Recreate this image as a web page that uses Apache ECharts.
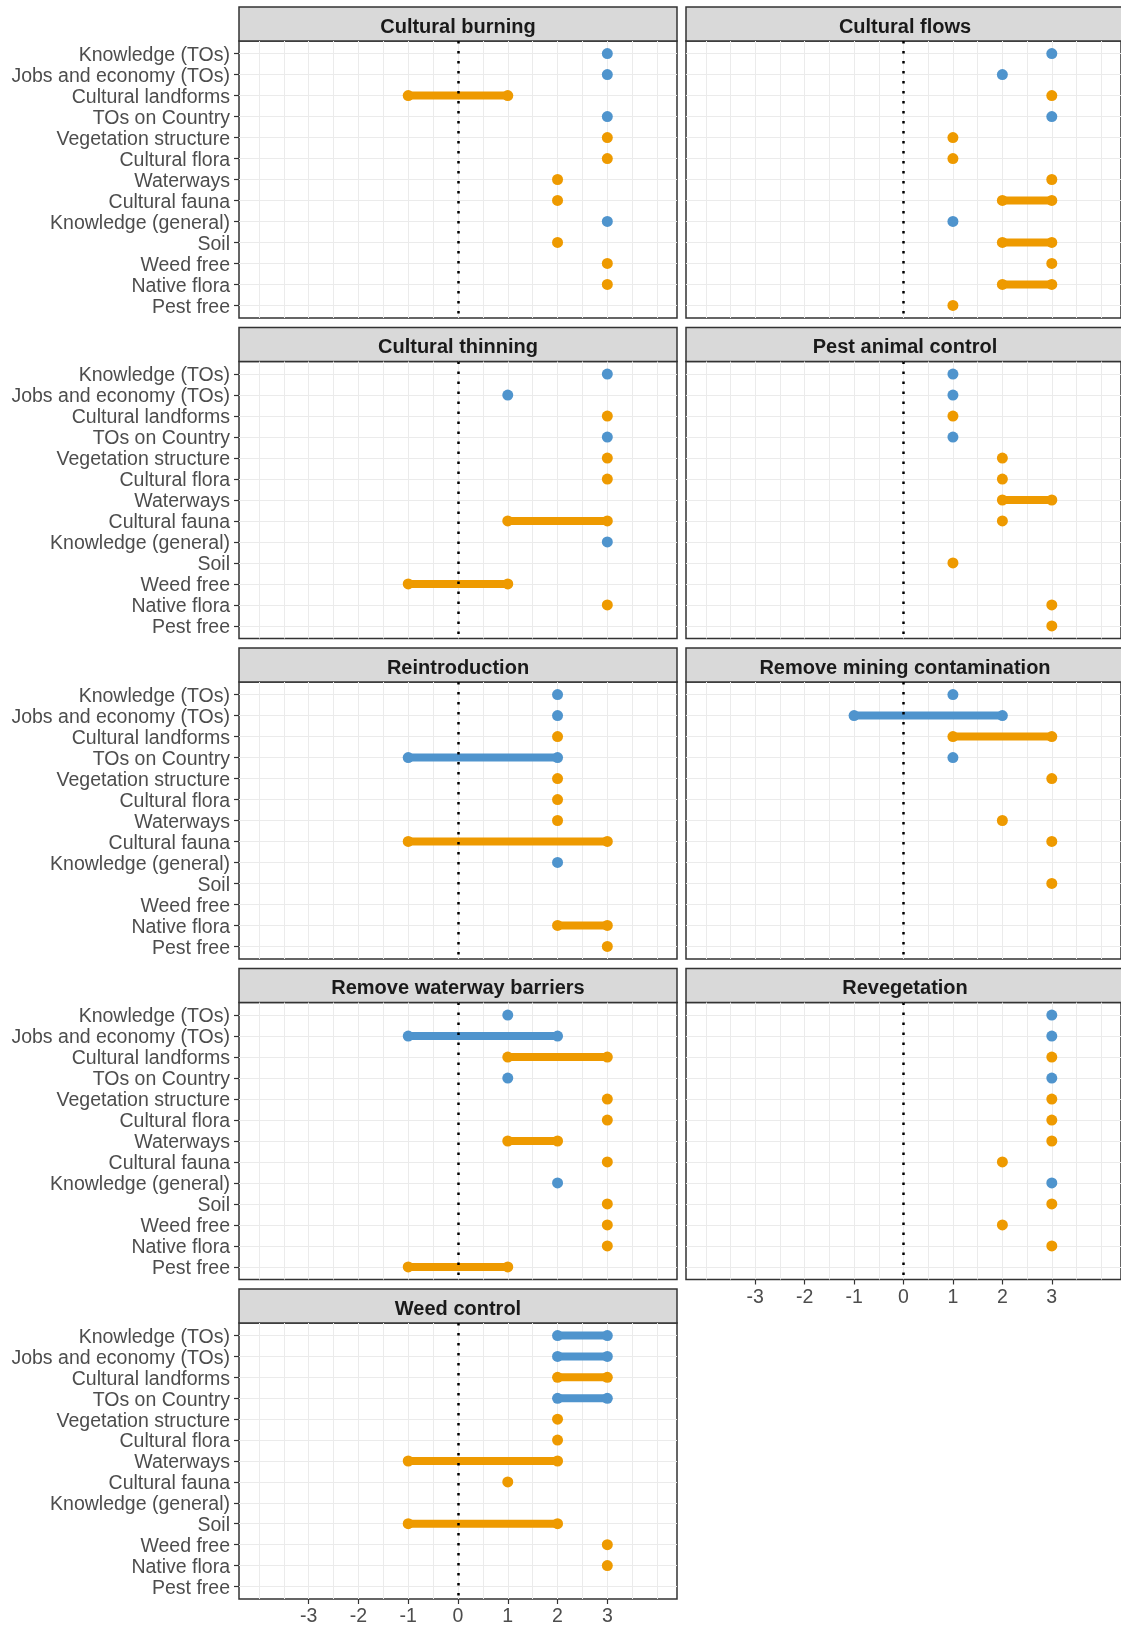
<!DOCTYPE html>
<html>
<head>
<meta charset="utf-8">
<title>Outcome scores by management action</title>
<script src="https://cdn.jsdelivr.net/npm/echarts@6/dist/echarts.min.js"></script>
<style>
  html, body { margin: 0; padding: 0; background: #fff; }
  #chart { width: 1121px; height: 1627px; }
</style>
</head>
<body>
<div id="chart"></div>
<script>
// rows, top to bottom
const categories = [
  'Knowledge (TOs)', 'Jobs and economy (TOs)', 'Cultural landforms', 'TOs on Country',
  'Vegetation structure', 'Cultural flora', 'Waterways', 'Cultural fauna',
  'Knowledge (general)', 'Soil', 'Weed free', 'Native flora', 'Pest free'
];
// rows drawn in blue, the rest in orange
const tosRows = ['Knowledge (TOs)', 'Jobs and economy (TOs)', 'TOs on Country', 'Knowledge (general)'];

const panelNames = [
  'Cultural burning', 'Cultural flows', 'Cultural thinning', 'Pest animal control',
  'Reintroduction', 'Remove mining contamination', 'Remove waterway barriers',
  'Revegetation', 'Weed control'
];
const xTickValues = [-3, -2, -1, 0, 1, 2, 3];

// [low, high] score for each row, null = nothing drawn
const culturalBurning   = [[3,3],[3,3],[-1,1],[3,3],[3,3],[3,3],[2,2],[2,2],[3,3],[2,2],[3,3],[3,3],null];
const culturalFlows     = [[3,3],[2,2],[3,3],[3,3],[1,1],[1,1],[3,3],[2,3],[1,1],[2,3],[3,3],[2,3],[1,1]];
const culturalThinning  = [[3,3],[1,1],[3,3],[3,3],[3,3],[3,3],null,[1,3],[3,3],null,[-1,1],[3,3],null];
const pestAnimalControl = [[1,1],[1,1],[1,1],[1,1],[2,2],[2,2],[2,3],[2,2],null,[1,1],null,[3,3],[3,3]];
const reintroduction    = [[2,2],[2,2],[2,2],[-1,2],[2,2],[2,2],[2,2],[-1,3],[2,2],null,null,[2,3],[3,3]];
const removeMining      = [[1,1],[-1,2],[1,3],[1,1],[3,3],null,[2,2],[3,3],null,[3,3],null,null,null];
const removeBarriers    = [[1,1],[-1,2],[1,3],[1,1],[3,3],[3,3],[1,2],[3,3],[2,2],[3,3],[3,3],[3,3],[-1,1]];
const revegetation      = [[3,3],[3,3],[3,3],[3,3],[3,3],[3,3],[3,3],[2,2],[3,3],[3,3],[2,2],[3,3],null];
const weedControl       = [[2,3],[2,3],[2,3],[2,3],[2,2],[2,2],[-1,2],[1,1],null,[-1,2],[3,3],[3,3],null];

const panelData = [
  culturalBurning, culturalFlows, culturalThinning, pestAnimalControl,
  reintroduction, removeMining, removeBarriers, revegetation, weedControl
];

const chart = echarts.init(document.getElementById('chart'));

// layout (px)
const colLeft = [239, 686];
const panelW = 438, panelH = 277, stripH = 34, firstTop = 41, rowStep = 320.5;
const blue = '#4F94CD', orange = '#EE9A00';
const font = 'Liberation Sans';

const gridX = [];
for (let v = -4; v <= 4; v += 0.5) gridX.push(v);
const rowIdx = categories.map((c, i) => i + 1);

const grids = [], xAxes = [], yAxes = [], series = [], graphics = [];

panelNames.forEach((name, p) => {
  const col = p % 2, row = Math.floor(p / 2);
  const left = colLeft[col], top = firstTop + row * rowStep;
  const isBottom = p >= panelNames.length - 2;

  grids.push({
    left: left, top: top, width: panelW, height: panelH,
    show: true, backgroundColor: '#fff', borderColor: '#333', borderWidth: 1.5
  });

  // data axis, also carries the vertical grid lines
  xAxes.push({
    gridIndex: p, type: 'value', min: -4.4, max: 4.4, position: 'bottom',
    axisLine: { show: false, onZero: false },
    axisTick: { show: false, customValues: gridX },
    axisLabel: { show: false },
    splitLine: { show: true, lineStyle: { color: '#ebebeb', width: 1 } }
  });
  if (isBottom) {
    xAxes.push({
      gridIndex: p, type: 'value', min: -4.4, max: 4.4, position: 'bottom',
      axisLine: { show: false, onZero: false },
      axisTick: { show: true, customValues: xTickValues, length: 5, lineStyle: { color: '#333', width: 1.2 } },
      axisLabel: { customValues: xTickValues, color: '#4d4d4d', fontSize: 19.5, fontFamily: font, margin: 8 },
      splitLine: { show: false }
    });
  }

  yAxes.push({
    gridIndex: p, type: 'value', min: 0.4, max: 13.6, inverse: true, position: 'left',
    axisLine: { show: false, onZero: false },
    axisTick: { show: col === 0, customValues: rowIdx, length: 5, lineStyle: { color: '#333', width: 1.2 } },
    axisLabel: {
      show: col === 0, customValues: rowIdx, margin: 9,
      formatter: v => '{c|' + categories[v - 1] + '}',
      rich: { c: { color: '#4d4d4d', fontSize: 19.5, fontFamily: font, padding: [4, 0, 0, 0] } }
    },
    splitLine: { show: true, lineStyle: { color: '#ebebeb', width: 1 } }
  });

  const data = [];
  panelData[p].forEach((r, i) => {
    if (r) data.push([r[0], r[1], i + 1, tosRows.includes(categories[i]) ? 1 : 0]);
  });

  series.push({
    type: 'custom',
    name: name,
    xAxisIndex: xAxes.length - (isBottom ? 2 : 1),
    yAxisIndex: p,
    z: 2,
    silent: true,
    encode: { x: [0, 1], y: 2 },
    data: data,
    renderItem: function (params, api) {
      const lo = api.value(0), hi = api.value(1), r = api.value(2);
      const color = api.value(3) ? blue : orange;
      const a = api.coord([lo, r]), b = api.coord([hi, r]);
      const children = [];
      if (hi > lo) {
        children.push({ type: 'line', shape: { x1: a[0], y1: a[1], x2: b[0], y2: b[1] },
          style: { stroke: color, lineWidth: 8, lineCap: 'round' } });
        children.push({ type: 'circle', shape: { cx: b[0], cy: b[1], r: 5.5 }, style: { fill: color } });
      }
      children.push({ type: 'circle', shape: { cx: a[0], cy: a[1], r: 5.5 }, style: { fill: color } });
      return { type: 'group', children: children };
    },
    markLine: {
      silent: true, symbol: 'none', z: 5,
      label: { show: false },
      lineStyle: { color: '#000', type: [2.5, 7.5], width: 2.5 },
      data: [{ xAxis: 0 }]
    }
  });

  // facet strip
  graphics.push({
    type: 'rect',
    shape: { x: left, y: top - stripH, width: panelW, height: stripH },
    style: { fill: '#d9d9d9', stroke: '#333', lineWidth: 1.5 }
  });
  graphics.push({
    type: 'text',
    x: left + panelW / 2, y: top - stripH / 2 + 3,
    style: {
      text: name, fill: '#1a1a1a', font: 'bold 20px "Liberation Sans"',
      textAlign: 'center', textVerticalAlign: 'middle'
    }
  });
});

chart.setOption({
  backgroundColor: '#fff',
  animation: false,
  grid: grids,
  xAxis: xAxes,
  yAxis: yAxes,
  series: series,
  graphic: graphics
});
</script>
</body>
</html>
